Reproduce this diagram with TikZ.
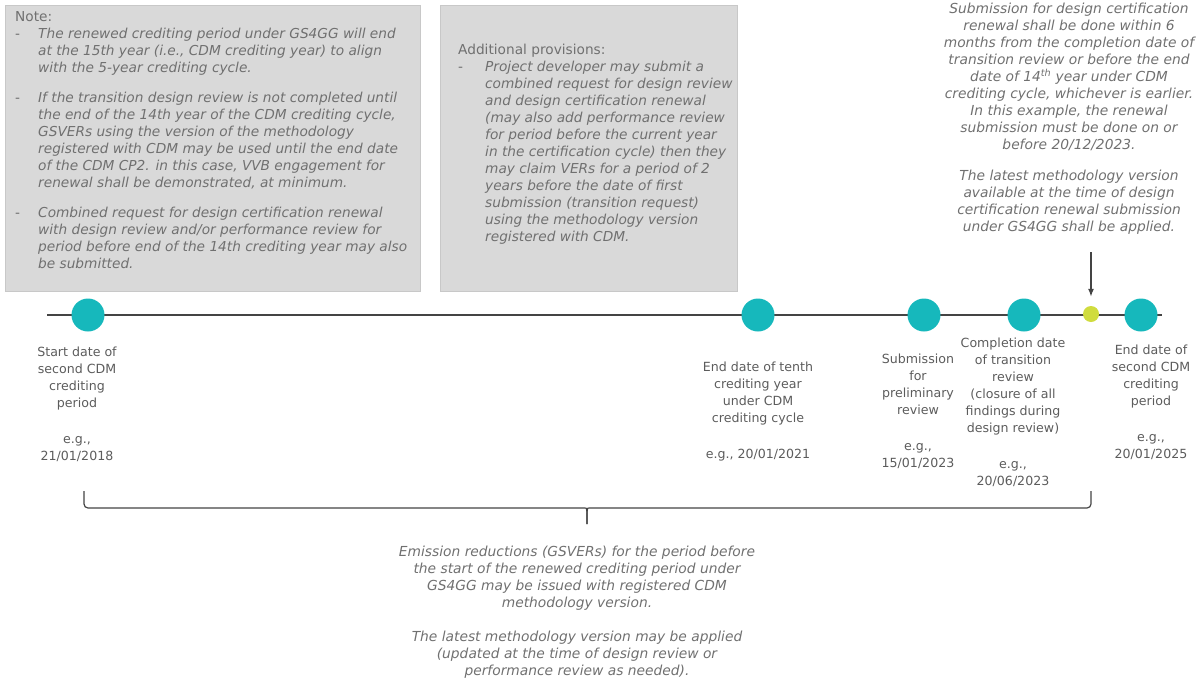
\documentclass[tikz,border=0pt]{standalone}
\usepackage{fontspec}
\setmainfont{DejaVu Sans}
\usepackage{array}
\usetikzlibrary{arrows.meta,positioning}
\definecolor{tealdot}{RGB}{22,184,188}
\definecolor{limedot}{RGB}{208,220,62}
\definecolor{boxgray}{RGB}{217,217,217}
\definecolor{txtgray}{RGB}{112,112,112}
\definecolor{lbgray}{RGB}{92,92,92}
\definecolor{linegray}{RGB}{68,68,68}
\tikzset{
  notebox/.style={fill=boxgray, draw=boxgray!92!black, line width=0.6pt, anchor=north west, inner sep=0pt},
  notetext/.style={anchor=north west, inner sep=0pt, text=txtgray, font=\fontsize{13.7}{17}\selectfont},
  milestone/.style={circle, fill=tealdot, minimum size=33pt, inner sep=0pt},
  datelabel/.style={align=center, anchor=north, inner sep=0pt, text=lbgray, font=\fontsize{12.6}{17}\selectfont},
  remark/.style={align=center, anchor=north, inner sep=0pt, text=txtgray, font=\fontsize{13.8}{17}\selectfont\itshape},
}
\begin{document}
\begin{tikzpicture}[x=1pt,y=-1pt]
    \useasboundingbox (0,0) rectangle (1202,686);
    %% grey note boxes
    \node[notebox, minimum width=415pt, minimum height=286pt] (notebg) at (5,5) {};
    \node[notebox, minimum width=297pt, minimum height=286pt] (addbg) at (440,5) {};
    \node[notetext] (note) at (15,9) {%
      \begin{tabular}{@{}p{23pt}@{}>{\itshape}l@{}}
        \multicolumn{2}{@{}l@{}}{Note:}\\
        - & The renewed crediting period under GS4GG will end\\
          & at the 15th year (i.e., CDM crediting year) to align\\
          & with the 5-year crediting cycle.\\[13pt]
        - & If the transition design review is not completed until\\
          & the end of the 14th year of the CDM crediting cycle,\\
          & GSVERs using the version of the methodology\\
          & registered with CDM may be used until the end date\\
          & of the CDM CP2. in this case, VVB engagement for\\
          & renewal shall be demonstrated, at minimum.\\[13pt]
        - & Combined request for design certification renewal\\
          & with design review and/or performance review for\\
          & period before end of the 14th crediting year may also\\
          & be submitted.
      \end{tabular}};
    \node[notetext] (addprov) at (458,42) {%
      \begin{tabular}{@{}p{27pt}@{}>{\itshape}l@{}}
        \multicolumn{2}{@{}l@{}}{Additional provisions:}\\
        - & Project developer may submit a\\
          & combined request for design review\\
          & and design certification renewal\\
          & (may also add performance review\\
          & for period before the current year\\
          & in the certification cycle) then they\\
          & may claim VERs for a period of 2\\
          & years before the date of first\\
          & submission (transition request)\\
          & using the methodology version\\
          & registered with CDM.
      \end{tabular}};
    %% renewal remark top right
    \node[remark] (renewnote) at (1069,3) {Submission for design certification\\
      renewal shall be done within 6\\
      months from the completion date of\\
      transition review or before the end\\
      date of 14\textsuperscript{th} year under CDM\\
      crediting cycle, whichever is earlier.\\
      In this example, the renewal\\
      submission must be done on or\\
      before 20/12/2023.\\[14pt]
      The latest methodology version\\
      available at the time of design\\
      certification renewal submission\\
      under GS4GG shall be applied.};
    %% timeline
    \coordinate (tlstart) at (47,315);
    \coordinate (tlend) at (1162,315);
    \draw[line width=2.6pt, linegray] (tlstart) -- (tlend);
    \node[milestone] (cpstart) at (88,315) {};
    \node[milestone] (tenth) at (758,315) {};
    \node[milestone] (prelim) at (924,315) {};
    \node[milestone] (transdone) at (1024,315) {};
    \node[circle, fill=limedot, minimum size=16pt, inner sep=0pt] (renewsub) at (1091,314) {};
    \node[milestone] (cpend) at (1141,315) {};
    \coordinate (arrtop) at (1091,252);
    \draw[linegray, line width=1.4pt, -{Latex[length=8pt,width=6pt]}, shorten >=9pt] (arrtop) -- (renewsub.north);
    %% labels below the line
    \node[datelabel, below=15pt of cpstart, xshift=-11pt] (lstart) {Start date of\\second CDM\\crediting\\period\\[19pt]e.g.,\\21/01/2018};
    \node[datelabel, below=30pt of tenth] (ltenth) {End date of tenth\\crediting year\\under CDM\\crediting cycle\\[19pt]e.g., 20/01/2021};
    \node[datelabel, below=22pt of prelim, xshift=-6pt] (lprelim) {Submission\\for\\preliminary\\review\\[19pt]e.g.,\\15/01/2023};
    \node[datelabel, below=6pt of transdone, xshift=-11pt] (ltrans) {Completion date\\of transition\\review\\(closure of all\\findings during\\design review)\\[19pt]e.g.,\\20/06/2023};
    \node[datelabel, below=13pt of cpend, xshift=10pt] (lend) {End date of\\second CDM\\crediting\\period\\[19pt]e.g.,\\20/01/2025};
    %% brace under the labels
    \coordinate (brleft) at (84,491);
    \coordinate (brright) at (1091,491);
    \coordinate (brtip) at (587,524);
    \draw[linegray, line width=1.2pt, rounded corners=4pt] (brleft) |- (581,508) .. controls (587,508) .. (brtip);
    \draw[linegray, line width=1.2pt, rounded corners=4pt] (brright) |- (593,508) .. controls (587,508) .. (brtip);
    \node[remark, below=22pt of brtip, xshift=-10pt] (issuance) {Emission reductions (GSVERs) for the period before\\
      the start of the renewed crediting period under\\
      GS4GG may be issued with registered CDM\\
      methodology version.\\[17pt]
      The latest methodology version may be applied\\
      (updated at the time of design review or\\
      performance review as needed).};
\end{tikzpicture}
\end{document}
